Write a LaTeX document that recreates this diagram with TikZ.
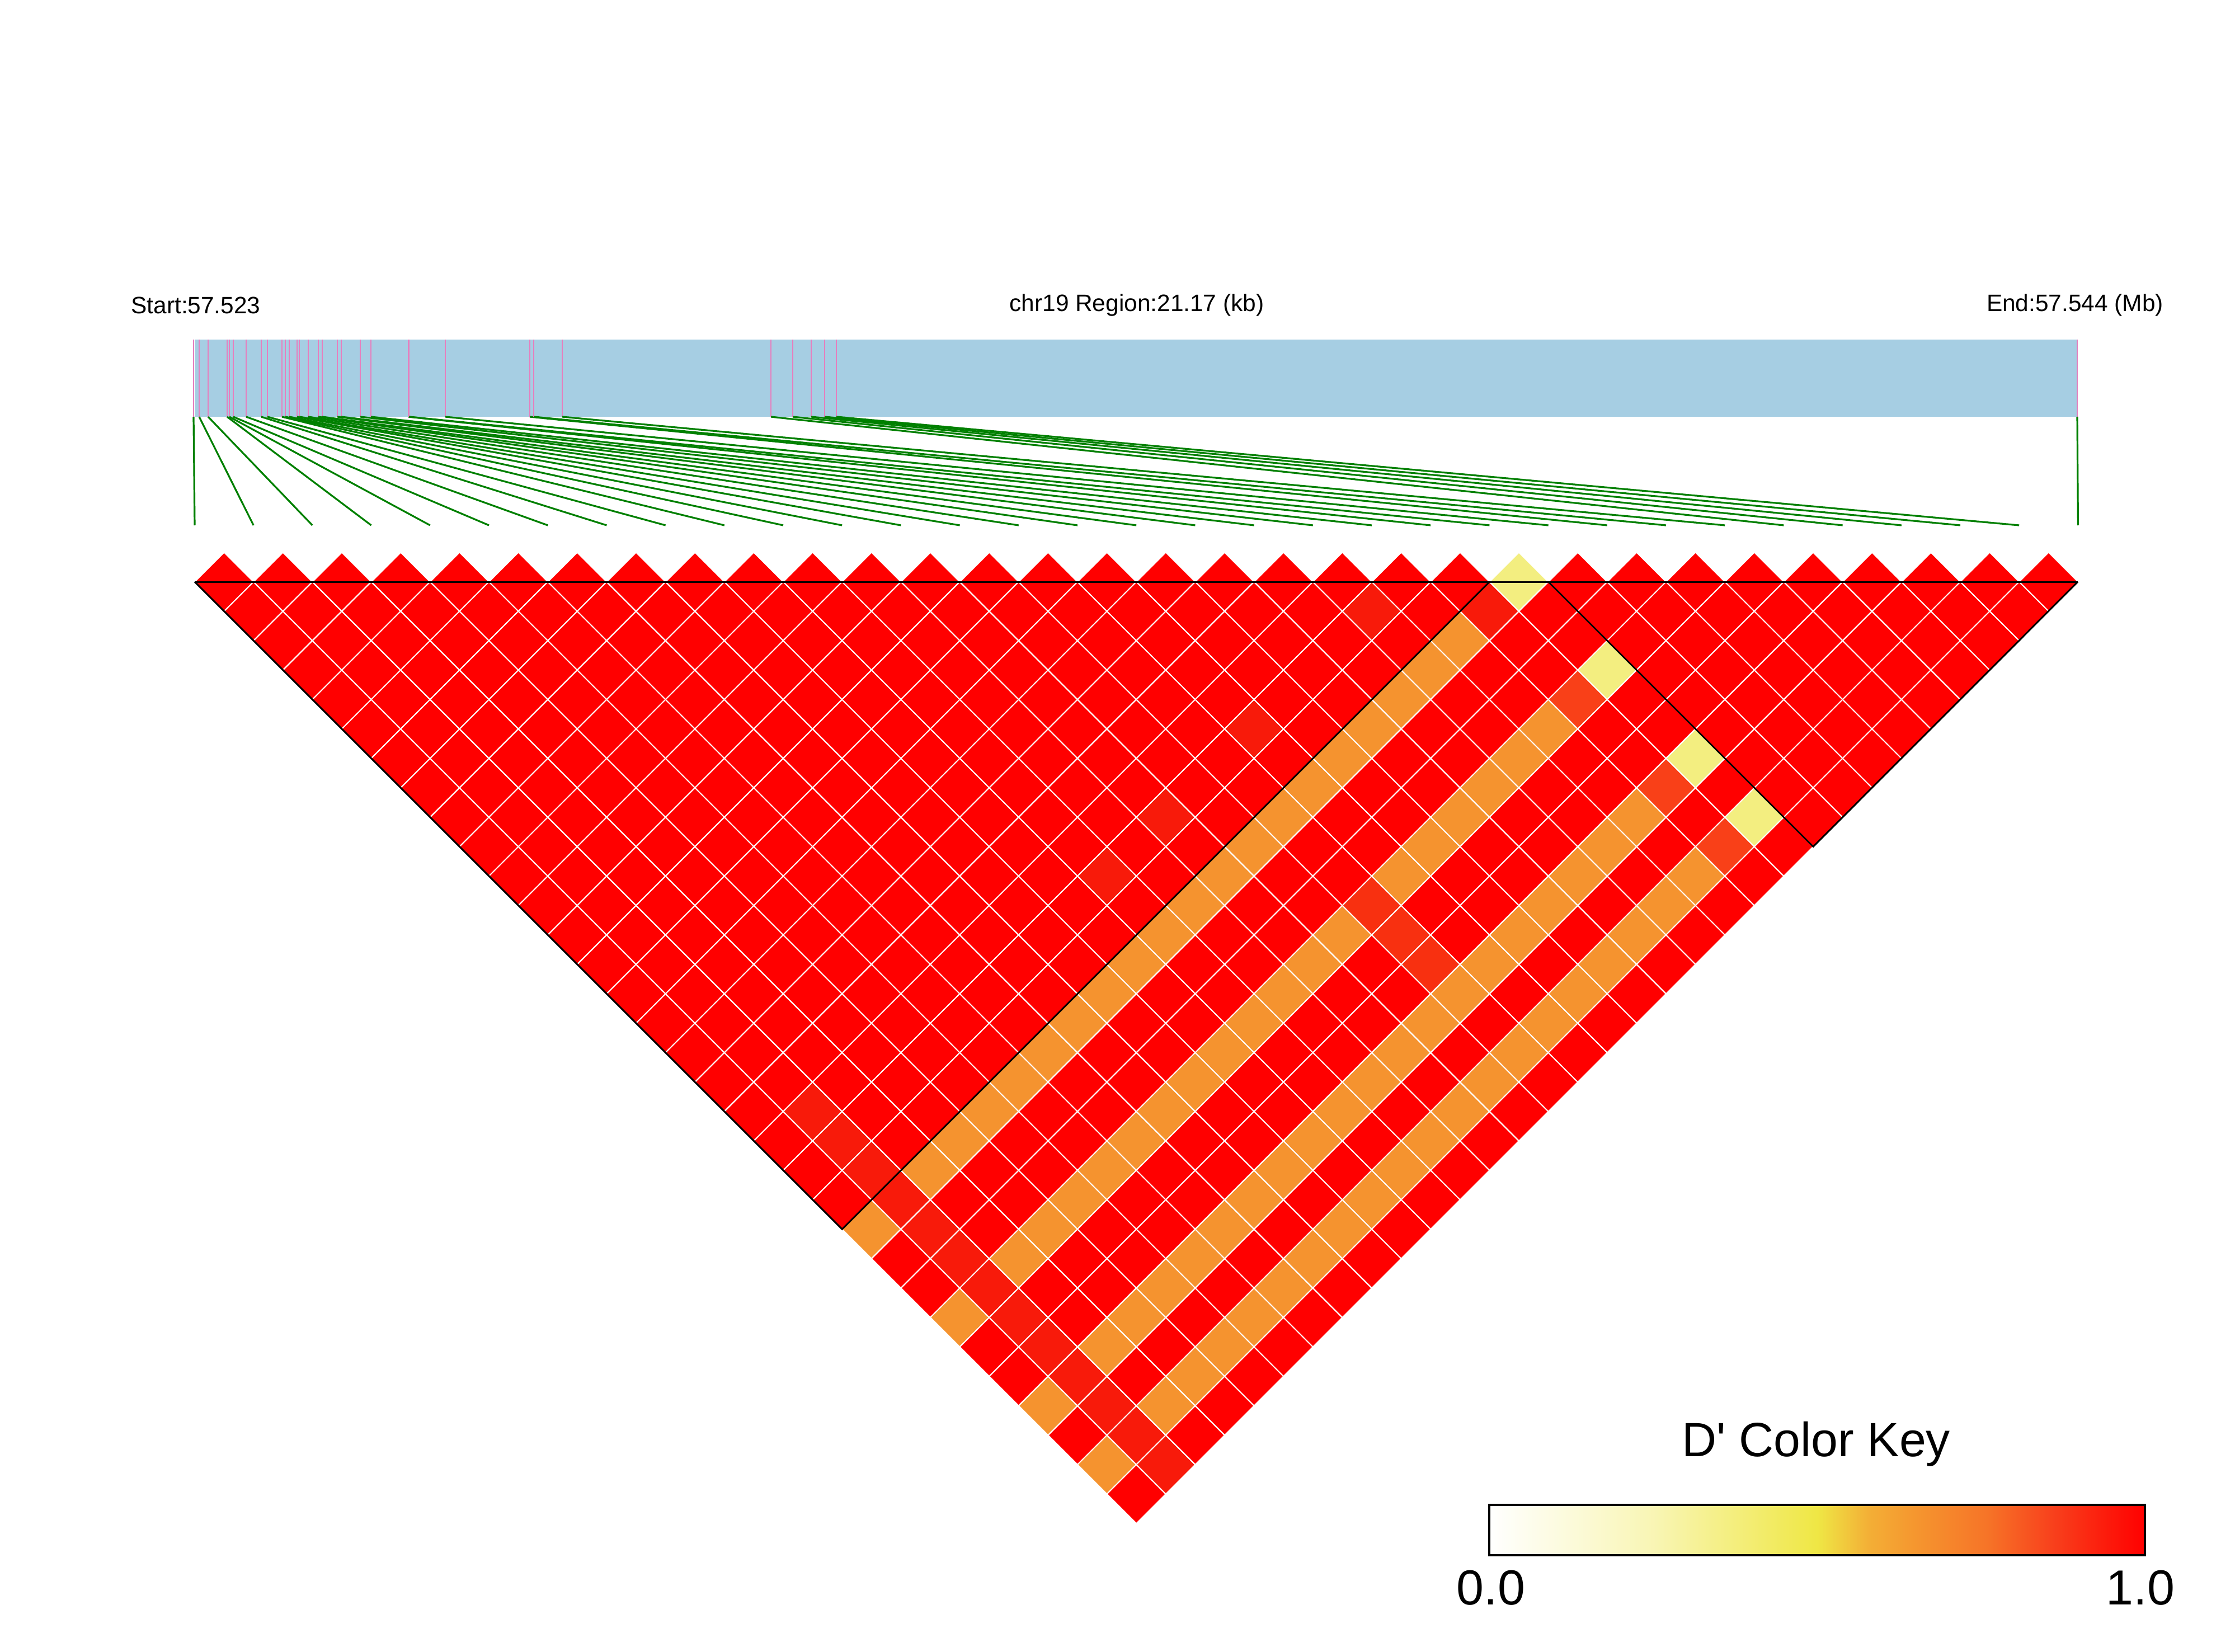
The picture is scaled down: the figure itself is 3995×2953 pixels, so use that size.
\documentclass[tikz,border=0pt]{standalone}
\usepackage{fontspec}
\setmainfont{Liberation Sans}
\definecolor{cor}{HTML}{F5932F}
\definecolor{cord}{HTML}{F94018}
\definecolor{cyel}{HTML}{F3EE80}
\definecolor{cdk}{HTML}{F81A0A}
\definecolor{cdkb}{HTML}{F83010}
\definecolor{barc}{HTML}{A6CEE3}
\definecolor{pinkc}{HTML}{E67FBE}
\definecolor{greenc}{HTML}{008000}
\definecolor{kyel}{HTML}{EFE745}
\definecolor{korg}{HTML}{F5962F}
\definecolor{kro}{HTML}{F8401C}
\pgfdeclarehorizontalshading{dkey}{100bp}{color(0bp)=(white); color(25bp)=(white); color(37.5bp)=(white!60!kyel); color(50bp)=(kyel); color(54bp)=(korg!70!kyel); color(57.5bp)=(korg); color(63bp)=(korg!60!kro); color(68bp)=(kro); color(75bp)=(red); color(100bp)=(red)}
\newcommand\getcc[2]{%
 \def\cc{red}%
 \pgfmathtruncatemacro\gg{(#2==23)||(#2==26)||(#2==29)||(#2==31)}%
 \ifnum\gg=1
   \ifnum#1<21 \def\cc{cor}\fi
   \ifnum#1=21 \def\cc{cord}\fi
   \ifnum#1=22 \def\cc{cyel}\fi
 \fi
 \ifnum#1=1 \ifnum#2>19 \def\cc{cdk}\fi\fi
 \ifnum#1=21 \ifnum#2=23 \def\cc{cdk}\fi\fi
 \ifnum#1=14 \ifnum#2>25 \ifnum#2<29 \def\cc{cdkb}\fi\fi\fi
 \ifnum#2=21
   \pgfmathtruncatemacro\hh{(#1==10)||(#1==12)||(#1==15)||(#1==19)}%
   \ifnum\hh=1 \def\cc{cdk}\fi
 \fi
}
\tikzset{
 cell/.style={fill=#1,draw=white,line width=0.5pt},
 blk/.style={draw=black,line width=0.75pt},
 small/.style={font=\fontsize{10.6}{12}\selectfont},
}
\begin{document}
\begin{tikzpicture}[x=0.25pt,y=-0.25pt]
\useasboundingbox (0,0) rectangle (3995,2953);
% texts
\node[small] (start) at (350,546) {Start:57.523};
\node[small] (reg) at (2032,546) {chr19 Region:21.17 (kb)};
\node[small,anchor=east] (end) at (3881,546) {End:57.544 (Mb)};
% bar
\fill[barc] (348,607) rectangle (3714,745);
\foreach \p [count=\k from 0] in {346,356,372,406,410,417,440,467,478,504,510,517,531,535,551,569,576,603,610,644,663,730,731,796,947,954,1005,1378,1417,1450,1474,1495,3713}{
  \draw[pinkc,line width=0.6pt] (\p,607) -- (\p,745);
  \draw[greenc,line width=0.8pt] (\p,745) -- ({348+\k*105.2},939);
}
% cells
\foreach \i in {0,...,31}{
 \pgfmathtruncatemacro\js{\i+1}
 \foreach \j in {\js,...,32}{
  \pgfmathsetmacro\cx{348+(\i+\j)*52.6}
  \pgfmathsetmacro\cy{1040+(\j-\i-1)*52.6}
  \getcc{\i}{\j}
  \path[cell=\cc] (\cx-52.6,\cy) -- (\cx,\cy-52.6) -- (\cx+52.6,\cy) -- (\cx,\cy+52.6) -- cycle;
 }}
% block outlines
\draw[blk] (348,1040) -- (3714,1040);
\draw[blk] (348,1040) -- (1505.2,2197.2) -- (2662.4,1040);
\draw[blk] (2767.6,1040) -- (3241,1513.4) -- (3714,1040);
% key
\node[font=\fontsize{21.5}{24}\selectfont] (kt) at (3246,2581) {D\textquotesingle{} Color Key};
\shade[shading=dkey] (2662,2690) rectangle (3834,2780);
\draw[line width=0.8pt] (2662,2690) rectangle (3834,2780);
\node[font=\fontsize{22}{24}\selectfont] (k0) at (2665,2838) {0.0};
\node[font=\fontsize{22}{24}\selectfont] (k1) at (3826,2838) {1.0};
\end{tikzpicture}
\end{document}
